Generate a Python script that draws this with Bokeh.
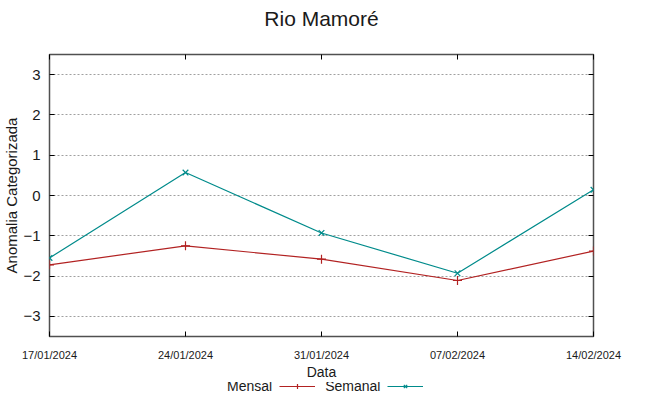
import pandas as pd
from bokeh.plotting import figure
from bokeh.layouts import column
from bokeh.models import (Range1d, FixedTicker, DatetimeTickFormatter, LinearAxis,
                          DatetimeAxis, Legend, LegendItem)
from bokeh.core.properties import value
from bokeh.embed import file_html
from bokeh.resources import INLINE

# ---------------- data ----------------
chart_title = "Rio Mamoré"
dates = ["17/01/2024", "24/01/2024", "31/01/2024", "07/02/2024", "14/02/2024"]
mensal = [-1.72, -1.25, -1.58, -2.11, -1.38]
semanal = [-1.55, 0.57, -0.93, -1.93, 0.14]
series_names = ["Mensal", "Semanal"]
y_ticks = [-3, -2, -1, 0, 1, 2, 3]
y_limits = [-3.5, 3.5]
x_label = "Data"
y_label = "Anomalia Categorizada"

# ---------------- styling ----------------
FONT = "Liberation Sans"
RED = "#b22222"
TEAL = "#008b8b"
TXT = "#1a1a1a"

x = pd.to_datetime(dates, format="%d/%m/%Y")
x_ms = [t.value / 1e6 for t in x]

# ---------------- title strip ----------------
tf = figure(width=633, height=36, output_backend="svg", toolbar_location=None,
            x_range=Range1d(0, 1), y_range=Range1d(0, 1),
            x_axis_location=None, y_axis_location=None, min_border=0)
tf.outline_line_color = None
tf.background_fill_color = "white"
tf.border_fill_color = "white"
tf.grid.visible = False
tf.text(x=[0.5], y=[0.5], text=[chart_title], text_align="center",
        text_baseline="middle", text_font=value(FONT), text_font_size="21px",
        text_color=TXT)

# ---------------- main plot ----------------
p = figure(width=633, height=346, output_backend="svg", toolbar_location=None,
           x_axis_type="datetime",
           x_range=Range1d(x[0], x[-1]), y_range=Range1d(*y_limits),
           min_border_left=42, min_border_right=40, min_border_top=18,
           min_border_bottom=46)

xa = p.xaxis[0]
ya = p.yaxis[0]

p.background_fill_color = "white"
p.border_fill_color = "white"
p.outline_line_color = "#505050"
p.outline_line_width = 1.5

fmt = "%d/%m/%Y"
formatter = DatetimeTickFormatter(milliseconds=fmt, seconds=fmt, minsec=fmt, minutes=fmt,
                                  hourmin=fmt, hours=fmt, days=fmt, months=fmt, years=fmt)

# bottom axis
xa.ticker = FixedTicker(ticks=x_ms)
xa.formatter = formatter
xa.axis_line_color = None
xa.major_tick_in = 5
xa.major_tick_out = 0
xa.major_tick_line_color = "black"
xa.minor_tick_line_color = None
xa.major_label_text_font = FONT
xa.major_label_text_font_size = "11px"
xa.major_label_text_color = TXT
xa.major_label_standoff = 12
xa.axis_label = x_label
xa.axis_label_text_font = FONT
xa.axis_label_text_font_size = "14px"
xa.axis_label_text_font_style = "normal"
xa.axis_label_text_color = TXT
xa.axis_label_standoff = 0

# left axis
ya.ticker = FixedTicker(ticks=y_ticks)
ya.axis_line_color = None
ya.major_tick_in = 5
ya.major_tick_out = 0
ya.major_tick_line_color = "black"
ya.minor_tick_line_color = None
ya.major_label_text_font = FONT
ya.major_label_text_font_size = "15px"
ya.major_label_text_color = TXT
ya.major_label_standoff = 9
ya.axis_label = y_label
ya.axis_label_text_font = FONT
ya.axis_label_text_font_size = "15px"
ya.axis_label_text_font_style = "normal"
ya.axis_label_text_color = TXT
ya.axis_label_standoff = 0

# mirrored ticks (top / right), labels not painted
ra = LinearAxis(ticker=FixedTicker(ticks=y_ticks), axis_line_color=None,
                major_tick_in=5, major_tick_out=0, major_tick_line_color="black",
                minor_tick_line_color=None, major_label_text_font_size="1px",
                major_label_text_color=None, major_label_standoff=0)
p.add_layout(ra, "right")
ta = DatetimeAxis(ticker=FixedTicker(ticks=x_ms), formatter=formatter, axis_line_color=None,
                  major_tick_in=5, major_tick_out=0, major_tick_line_color="black",
                  minor_tick_line_color=None, major_label_text_font_size="1px",
                  major_label_text_color=None, major_label_standoff=0)
p.add_layout(ta, "above")

# grid
p.xgrid.grid_line_color = None
p.ygrid.ticker = FixedTicker(ticks=y_ticks)
p.ygrid.grid_line_color = "#a0a0a0"
p.ygrid.grid_line_dash = "2 2"
p.ygrid.grid_line_width = 1

# series
p.line(x, mensal, line_color=RED, line_width=1.2)
p.scatter(x, mensal, marker="cross", size=9, line_color=RED, line_width=1.2)
p.line(x, semanal, line_color=TEAL, line_width=1.2)
p.scatter(x, semanal, marker="x", size=8, line_color=TEAL, line_width=1.2)

# ---------------- legend strip (text before sample, as in the reference) ----------------
lf = figure(width=633, height=14, output_backend="svg", toolbar_location=None,
            x_range=Range1d(0, 1), y_range=Range1d(0, 1),
            x_axis_location=None, y_axis_location=None, min_border=0)
lf.outline_line_color = None
lf.background_fill_color = "white"
lf.border_fill_color = "white"
lf.grid.visible = False

# proxy renderers (kept outside the visible range) that only style the legend samples
off = [-5]
lm = lf.line(x=off, y=off, line_color=RED, line_width=1.2)
lmm = lf.scatter(x=off, y=off, marker="cross", size=9, line_color=RED, line_width=1.2)
ls = lf.line(x=off, y=off, line_color=TEAL, line_width=1.2)
lsm = lf.scatter(x=off, y=off, marker="x", size=8, line_color=TEAL, line_width=1.2)

legend = Legend(items=[
    LegendItem(label=value(series_names[0]), renderers=[]),
    LegendItem(label=value(series_names[1]), renderers=[lm, lmm]),
    LegendItem(label=value(""), renderers=[ls, lsm]),
], location=(132, 2), orientation="horizontal",
    glyph_width=36, glyph_height=12, label_height=12, label_width=0,
    label_standoff=10, spacing=7, padding=0, margin=0,
    border_line_color=None, background_fill_alpha=0,
    label_text_font=FONT, label_text_font_size="14px", label_text_color=TXT)
lf.add_layout(legend, "center")

layout = column(tf, p, lf, spacing=0)
open("out.html", "w").write(file_html(layout, INLINE))
